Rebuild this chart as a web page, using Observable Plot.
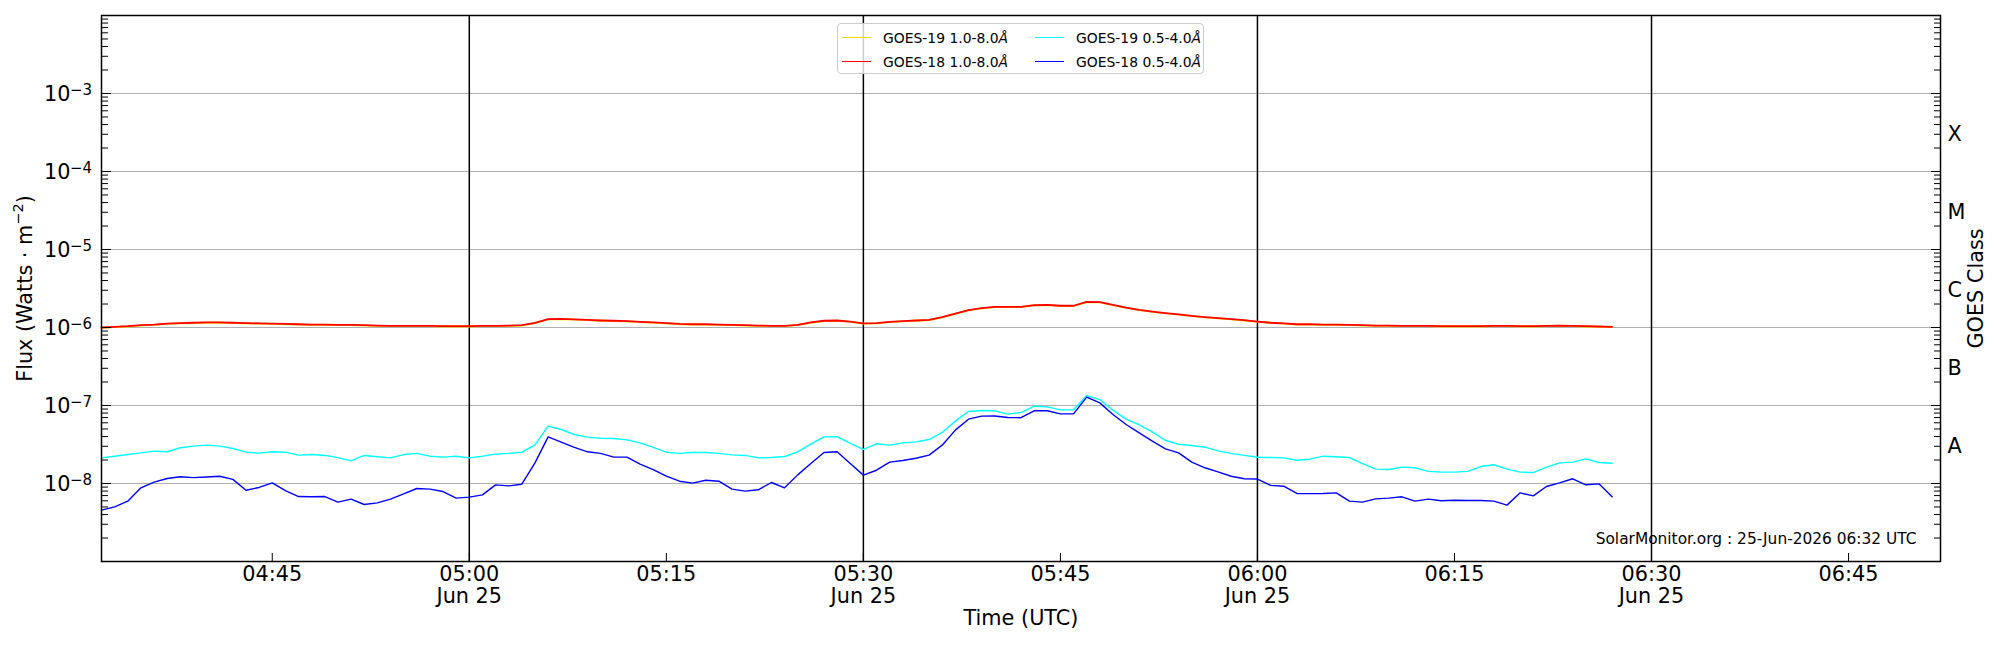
<!DOCTYPE html>
<html><head><meta charset="utf-8">
<script src="https://cdn.jsdelivr.net/npm/d3@7"></script>
<script src="https://cdn.jsdelivr.net/npm/@observablehq/plot@0.6"></script>
<style>
html,body{margin:0;padding:0;background:#fff;font-family:"DejaVu Sans",sans-serif;overflow:hidden;}
#wrap{position:relative;width:2000px;height:650px;}
#legend{position:absolute;left:837px;top:23px;width:367px;height:51px;border:1px solid #cccccc;border-radius:4px;background:rgba(255,255,255,0.8);box-sizing:border-box;font-size:13.9px;color:#000;}
.sw{position:absolute;height:0;width:29px;border-top:1.5px solid;}
.lb{position:absolute;line-height:16px;white-space:nowrap;}
</style></head>
<body><div id="wrap"><div id="legend"></div></div>
<script>
// ---- data (1-minute cadence from 04:32 UTC, 25-Jun-2026) ----
const seriesStart = "2026-06-25T04:32:00Z";
// GOES-19 1.0-8.0 Å, units of 1e-6 W m^-2
const goes19Long = [0.99,1.01,1.03,1.06,1.08,1.11,1.13,1.14,1.15,1.15,1.14,1.13,1.12,1.11,1.10,1.09,1.08,1.08,1.07,1.07,1.06,1.05,1.04,1.04,1.04,1.04,1.03,1.03,1.03,1.04,1.04,
 1.05,1.06,1.14,1.27,1.28,1.26,1.24,1.22,1.21,1.20,1.17,1.15,1.13,1.10,1.09,1.09,1.08,1.07,1.06,1.05,1.04,1.04,1.07,1.15,1.21,1.22,1.18,1.12,1.13,
 1.17,1.20,1.22,1.24,1.35,1.50,1.66,1.76,1.83,1.83,1.83,1.92,1.94,1.89,1.89,2.12,2.10,1.94,1.79,1.67,1.59,1.52,1.46,1.40,1.35,1.31,1.27,1.23,1.18,1.15,
 1.12,1.09,1.09,1.08,1.08,1.07,1.06,1.05,1.05,1.04,1.04,1.04,1.03,1.03,1.03,1.03,1.04,1.04,1.03,1.03,1.04,1.05,1.04,1.03,1.02,1.01];
// GOES-18 1.0-8.0 Å, units of 1e-6 W m^-2
const goes18Long = [1.00,1.02,1.04,1.07,1.09,1.12,1.14,1.15,1.16,1.16,1.15,1.14,1.13,1.12,1.11,1.10,1.09,1.09,1.08,1.08,1.07,1.06,1.05,1.05,1.05,1.05,1.04,1.04,1.04,1.05,1.05,
 1.06,1.07,1.15,1.28,1.29,1.27,1.25,1.23,1.22,1.21,1.18,1.16,1.14,1.11,1.10,1.10,1.09,1.08,1.07,1.06,1.05,1.05,1.08,1.16,1.22,1.23,1.19,1.13,1.14,
 1.18,1.21,1.23,1.25,1.36,1.51,1.67,1.77,1.84,1.84,1.84,1.93,1.95,1.90,1.90,2.13,2.11,1.95,1.80,1.68,1.60,1.53,1.47,1.41,1.36,1.32,1.28,1.24,1.19,1.15,
 1.13,1.10,1.10,1.09,1.09,1.08,1.07,1.06,1.06,1.05,1.05,1.05,1.04,1.04,1.04,1.04,1.05,1.05,1.04,1.04,1.05,1.06,1.05,1.04,1.03,1.02];
// GOES-19 0.5-4.0 Å, units of 1e-9 W m^-2
const goes19Short = [21.3,22.4,23.5,24.7,26.0,25.5,28.7,30.1,31.0,30.1,
 28.1,25.2,24.5,25.5,25.2,23.1,23.5,22.9,21.5,19.5,
 22.9,22.0,21.3,23.5,24.3,22.4,21.8,22.4,21.3,22.4,
 23.8,24.3,25.2,31.3,54.3,49.2,42.5,39.3,38.1,37.7,
 36.3,33.2,29.0,25.2,24.3,25.0,25.0,24.3,23.3,22.9,
 21.3,21.5,22.2,25.5,31.9,39.6,39.9,32.6,27.3,32.3,
 31.0,33.2,34.2,36.6,45.1,63.0,83.8,86.3,85.5,77.4,
 81.3,98.0,96.2,88.0,88.0,134,119,87.1,66.8,56.5,
 46.0,35.6,31.9,30.7,29.2,26.2,24.3,22.9,21.7,21.5,
 21.3,19.9,20.5,22.4,22.0,21.5,18.0,15.3,15.1,16.2,
 15.9,14.3,14.0,14.0,14.3,16.5,17.4,15.3,14.0,13.8,
 16.2,18.4,18.8,20.7,18.6,18.2];
// GOES-18 0.5-4.0 Å, units of 1e-9 W m^-2
const goes18Short = [4.55,5.02,5.94,8.8,10.4,11.6,12.2,11.9,12.1,12.4,
 11.3,8.2,8.9,10.2,8.1,6.8,6.75,6.8,5.77,6.3,
 5.38,5.65,6.3,7.38,8.63,8.46,7.89,6.49,6.68,7.16,
 9.6,9.33,9.8,18.4,39.6,33.9,29.0,25.5,24.3,21.8,
 21.8,17.7,15.1,12.4,10.7,10.1,11.0,10.7,8.46,7.98,
 8.3,10.3,8.8,12.9,18.0,25.0,25.5,18.0,12.8,14.8,
 18.8,19.7,21.1,23.1,31.0,48.3,66.8,73.0,73.5,70.2,
 69.8,85.5,85.5,78.2,78.2,128,108,76.7,57.1,44.6,
 34.9,27.8,24.7,18.8,15.9,14.1,12.4,11.5,11.4,9.45,
 9.24,7.45,7.41,7.45,7.59,5.94,5.77,6.36,6.49,6.75,
 5.94,6.3,6.0,6.11,6.05,6.05,5.94,5.28,7.59,6.95,
 9.16,10.2,11.5,9.62,9.9,6.75];

const seriesNames = ["GOES-19 1.0-8.0", "GOES-18 1.0-8.0", "GOES-19 0.5-4.0", "GOES-18 0.5-4.0"];
const seriesColors = ["#ffd700", "#ff0000", "#00ffff", "#0000ff"];

const xStart = "2026-06-25T04:32:00Z", xEnd = "2026-06-25T06:52:00Z";
const xTickTimes = ["04:45","05:00","05:15","05:30","05:45","06:00","06:15","06:30","06:45"];
const dayLineTimes = ["05:00","05:30","06:00","06:30"];
const yDomain = [1e-9, 1e-2];
const yLabelExps = [-8,-7,-6,-5,-4,-3];
const classLabels = ["A","B","C","M","X"];
const classExps = [-7.5,-6.5,-5.5,-4.5,-3.5];
const watermark = "SolarMonitor.org : 25-Jun-2026 06:32 UTC";

// ---- build ----
const t0 = new Date(seriesStart).getTime();
const asRows = (vals, unit) => vals.map((v, i) => ({time: new Date(t0 + i * 60000), flux: v * unit}));
const toDate = s => new Date(`2026-06-25T${s}:00Z`);
const xTicks = xTickTimes.map(toDate);
const dayLines = dayLineTimes.map(toDate);
const gridVals = yLabelExps.map(e => 10 ** e);
const majorY = d3.range(-9, -1).map(e => 10 ** e);
const minorY = d3.scaleLog().domain(yDomain).ticks().filter(v => Math.abs(Math.log10(v) - Math.round(Math.log10(v))) > 1e-6);
const classVals = classExps.map(e => 10 ** e);
const fmtHM = d3.utcFormat("%H:%M");
const xFmt = d => (d.getUTCMinutes() % 30 === 0) ? fmtHM(d) + "\nJun 25" : fmtHM(d);

const lineData = [
  asRows(goes19Long, 1e-6), asRows(goes18Long, 1e-6),
  asRows(goes19Short, 1e-9), asRows(goes18Short, 1e-9)
];
const widths = [1.8, 1.8, 1.4, 1.4];
const YLABEL = "Flux (Watts \u00b7 m^-2)";

const chart = Plot.plot({
  width: 2000, height: 650,
  marginLeft: 101, marginRight: 60, marginTop: 15, marginBottom: 89,
  style: {fontFamily: "DejaVu Sans", fontSize: "20.8px", color: "black", background: "white", overflow: "visible"},
  x: {type: "utc", domain: [new Date(xStart), new Date(xEnd)], label: null},
  y: {type: "log", domain: yDomain, label: null},
  marks: [
    Plot.ruleY(gridVals, {stroke: "#b0b0b0", strokeWidth: 1}),
    Plot.ruleX(dayLines, {stroke: "black", strokeWidth: 1.5}),
    ...lineData.map((rows, k) => Plot.line(rows, {x: "time", y: "flux", stroke: seriesColors[k], strokeWidth: widths[k]})),
    // inward ticks: positive length, shifted inside the frame
    Plot.axisY(majorY, {anchor: "left", tickSize: 10, dx: 10, tickFormat: () => "", label: null}),
    Plot.axisY(minorY, {anchor: "left", tickSize: 7, dx: 7, tickFormat: () => "", label: null}),
    Plot.axisY(majorY, {anchor: "right", tickSize: 10, dx: -10, tickFormat: () => "", label: null}),
    Plot.axisY(minorY, {anchor: "right", tickSize: 7, dx: -7, tickFormat: () => "", label: null}),
    Plot.axisX(xTicks, {anchor: "bottom", tickSize: 8, dy: -8, tickFormat: () => "", label: null}),
    Plot.axisX(xTicks, {anchor: "bottom", tickSize: 0, tickPadding: 4, tickFormat: xFmt, lineHeight: 1.06, label: null}),
    Plot.text(gridVals, {y: d => d, frameAnchor: "left", text: () => "10", textAnchor: "end", dx: -31, dy: 1, fontSize: 20.8}),
    Plot.text(gridVals, {y: d => d, frameAnchor: "left", text: d => "\u2212" + Math.round(-Math.log10(d)), textAnchor: "start", dx: -31.5, dy: -3, fontSize: 15}),
    Plot.text(classVals, {y: d => d, frameAnchor: "right", text: (d, i) => classLabels[i], textAnchor: "start", dx: 7, dy: 2}),
    Plot.text(["GOES Class"], {frameAnchor: "right", dx: 36, rotate: -90, textAnchor: "middle", text: d => d}),
    Plot.text([YLABEL], {frameAnchor: "left", dx: -76, rotate: -90, textAnchor: "middle", text: d => d}),
    Plot.text(["Time (UTC)"], {frameAnchor: "bottom", dy: 63, textAnchor: "middle", text: d => d}),
    Plot.text([watermark], {frameAnchor: "bottom-right", dx: -24, dy: -18, textAnchor: "end", fontSize: 15.4, text: d => d}),
    Plot.frame({stroke: "black", strokeWidth: 1.5})
  ]
});

// y label with a real superscript
d3.select(chart).selectAll("text").filter(function() { return this.textContent === YLABEL; })
  .each(function() {
    const t = d3.select(this).text(null).attr("font-size", "20.8px");
    t.append("tspan").text("Flux (Watts \u00b7 m");
    t.append("tspan").attr("dy", "-9").attr("font-size", "14.5px").text("\u22122");
    t.append("tspan").attr("dy", "9").text(")");
  });

const wrap = document.getElementById("wrap");
wrap.insertBefore(chart, wrap.firstChild);

// legend
const legend = document.getElementById("legend");
const legendPos = [[4, 14], [4, 38], [197, 14], [197, 38]];
seriesNames.forEach((name, k) => {
  const [lx, ly] = legendPos[k];
  const sw = document.createElement("div");
  sw.className = "sw"; sw.style.left = lx + "px"; sw.style.top = (ly - 1) + "px"; sw.style.borderTopColor = seriesColors[k];
  legend.appendChild(sw);
  const lb = document.createElement("div");
  lb.className = "lb"; lb.style.left = (lx + 41) + "px"; lb.style.top = (ly - 8) + "px";
  lb.innerHTML = name + "<i>\u00c5</i>";
  legend.appendChild(lb);
});
</script>
</body></html>
